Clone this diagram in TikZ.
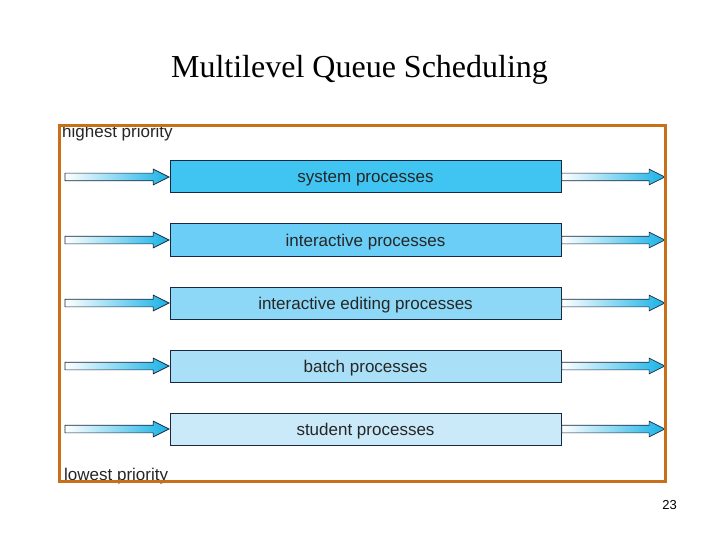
\documentclass[tikz,border=0pt]{standalone}
\usepackage{fontspec}
\setmainfont{Liberation Sans}
\newfontfamily\titlefont{Liberation Serif}
\usetikzlibrary{shapes.arrows}
\definecolor{frameOrange}{RGB}{200,112,24}
\definecolor{edgeNavy}{RGB}{24,40,64}
\definecolor{arrowBlue}{RGB}{24,178,230}
\definecolor{qOne}{RGB}{64,197,243}
\definecolor{qTwo}{RGB}{106,206,246}
\definecolor{qThree}{RGB}{141,216,246}
\definecolor{qFour}{RGB}{170,224,247}
\definecolor{qFive}{RGB}{202,234,249}
\begin{document}
\begin{tikzpicture}
[x=1pt,y=-1pt,%
  queueBox/.style={draw=edgeNavy,line width=1pt,minimum width=391pt,minimum height=32pt,inner sep=0pt,
    text height=13pt,text depth=1pt,font=\fontsize{17}{17}\selectfont,text=black!85},%
  flowArrow/.style={single arrow,draw=edgeNavy,line width=0.7pt,left color=white,right color=arrowBlue,
    minimum height=#1,minimum width=0pt,inner xsep=0pt,inner ysep=3.5pt,single arrow head extend=4pt,single arrow tip angle=53},%
  prioText/.style={font=\fontsize{17}{17}\selectfont,inner sep=0pt,text=black!85}]
\useasboundingbox (0,0) rectangle (720,540);
%% title
\node (title) at (359.5,78) [anchor=base,font=\titlefont\fontsize{32}{32}\selectfont,inner sep=0pt] {Multilevel Queue Scheduling};
%% priority labels
\node (high) at (62,138) [anchor=base west,prioText] {highest priority};
\node (low) at (64,480) [anchor=base west,prioText] {lowest priority};
%% queues and arrows
\foreach \qname/\y/\qcol/\qtext in {sys/177/qOne/system processes, inter/240/qTwo/interactive processes, edit/303/qThree/interactive editing processes, batch/366/qFour/batch processes, stud/429/qFive/student processes}
{
  \node (\qname) at (365.5,\y) [queueBox,fill=\qcol] {\qtext};
  \node (\qname in) [flowArrow=104pt,anchor=tip,xshift=0.3pt] at (\qname.west) {};
  \node (\qname out) [flowArrow=103pt,anchor=tail] at (\qname.east) {};
}
%% frame
\draw[frameOrange,line width=3pt] (59.5,125.5) rectangle (665,481.5);
%% slide number
\node (page) at (677,509) [anchor=base east,inner sep=0pt,font=\fontsize{13}{13}\selectfont] {23};
\end{tikzpicture}
\end{document}
